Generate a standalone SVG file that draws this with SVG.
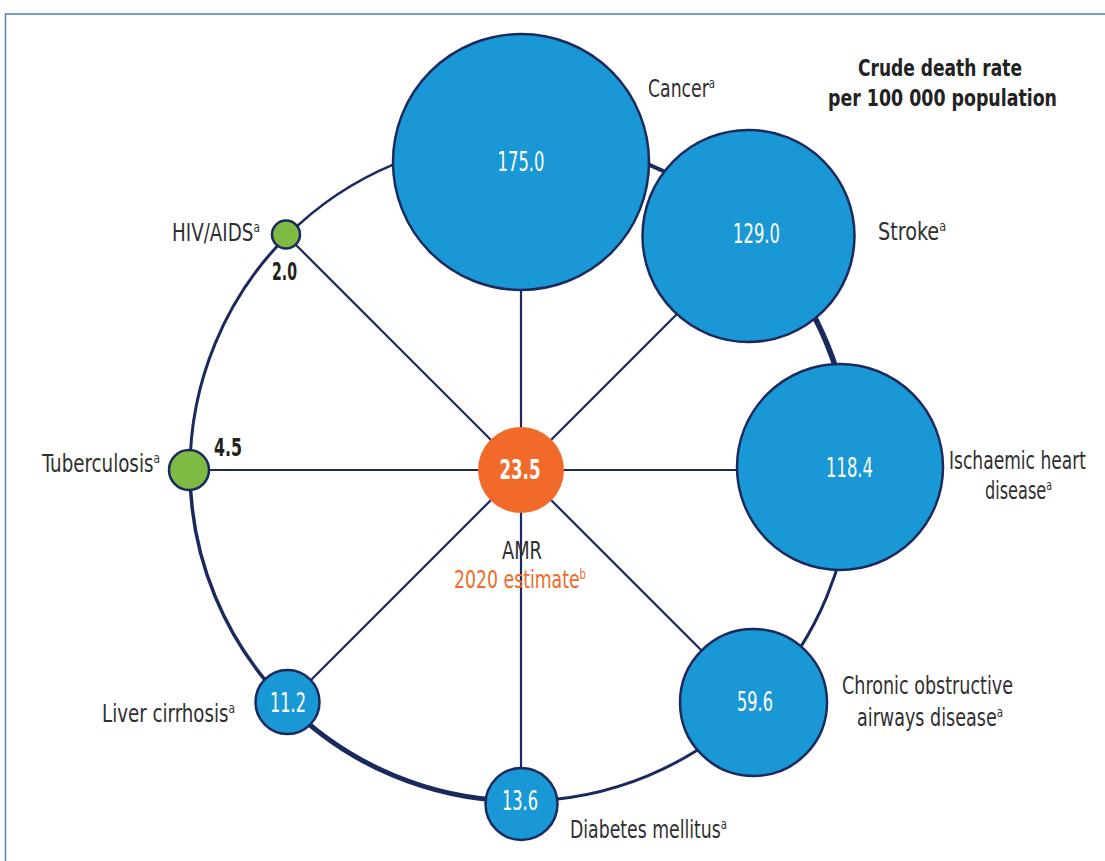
<svg xmlns="http://www.w3.org/2000/svg" width="1105" height="861" viewBox="0 0 1105 861">
  <style>
    text { font-family: "Liberation Sans Narrow", "DejaVu Sans Condensed", "Roboto Condensed", Roboto, sans-serif; }
    .lbl { font-size: 24px; fill: #2f2f2f; }
    .val { font-size: 26px; fill: #ffffff; text-anchor: middle; }
    .num { font-size: 24px; font-weight: bold; fill: #222222; }
    .ttl { font-size: 23px; font-weight: bold; fill: #222222; text-anchor: middle; }
    .sup { font-size: 14px; }
    .blue { fill: #1a98d6; stroke: #1b2a5e; stroke-width: 2.5; }
    .green { fill: #7dbb42; stroke: #1b2a5e; stroke-width: 2.5; }
    .ring { fill: none; stroke: #1b2a5e; }
    .spoke { stroke: #1b2a5e; stroke-width: 2.2; }
  </style>

  <!-- panel frame -->
  <rect x="5.5" y="14" width="1200" height="1000" fill="none" stroke="#4f7fb5" stroke-width="1.5"/>

  <!-- legend title -->
  <g id="title">
    <text class="ttl" x="940" y="76" textLength="164" lengthAdjust="spacingAndGlyphs">Crude death rate</text>
    <text class="ttl" x="942.5" y="106" textLength="229" lengthAdjust="spacingAndGlyphs">per 100 000 population</text>
  </g>

  <!-- ring segments and spokes -->
  <g id="connectors">
    <path class="ring" stroke-width="3" d="M852 470 A331 331 0 0 1 755.05 704.05"/>
    <path class="ring" stroke-width="3" d="M755.05 704.05 A331 331 0 0 1 521 801"/>
    <path class="ring" stroke-width="5" d="M521 801 A331 331 0 0 1 286.95 704.05"/>
    <path class="ring" stroke-width="3.5" d="M286.95 704.05 A331 331 0 0 1 190 470"/>
    <path class="ring" stroke-width="3" d="M190 470 A331 331 0 0 1 286.95 235.95"/>
    <path class="ring" stroke-width="2.5" d="M286.95 235.95 A331 331 0 0 1 521 139"/>
    <path class="ring" stroke-width="4" d="M521 139 A331 331 0 0 1 755.05 235.95"/>
    <path class="ring" stroke-width="5.5" d="M755.05 235.95 A331 331 0 0 1 852 470"/>

    <line class="spoke" x1="521" y1="470" x2="840" y2="470"/>
    <line class="spoke" x1="521" y1="470" x2="753.5" y2="702.5"/>
    <line class="spoke" x1="521" y1="470" x2="521" y2="804"/>
    <line class="spoke" x1="521" y1="470" x2="287.5" y2="703.5"/>
    <line class="spoke" x1="521" y1="470" x2="189" y2="470"/>
    <line class="spoke" x1="521" y1="470" x2="286" y2="235"/>
    <line class="spoke" x1="521" y1="470" x2="521" y2="162"/>
    <line class="spoke" x1="521" y1="470" x2="749" y2="242"/>
  </g>

  <g id="cancer">
    <circle class="blue" cx="521" cy="162" r="128"/>
    <text class="val" x="521" y="171" textLength="47" lengthAdjust="spacingAndGlyphs">175.0</text>
    <text class="lbl" x="648" y="97" textLength="67" lengthAdjust="spacingAndGlyphs">Cancer<tspan class="sup" dy="-9">a</tspan></text>
  </g>

  <g id="stroke">
    <circle class="blue" cx="748.5" cy="236" r="106"/>
    <text class="val" x="756.5" y="243" textLength="47" lengthAdjust="spacingAndGlyphs">129.0</text>
    <text class="lbl" x="878" y="240" textLength="68" lengthAdjust="spacingAndGlyphs">Stroke<tspan class="sup" dy="-9">a</tspan></text>
  </g>

  <g id="ischaemic-heart-disease">
    <circle class="blue" cx="840" cy="467" r="103"/>
    <text class="val" x="849.5" y="477" textLength="47" lengthAdjust="spacingAndGlyphs">118.4</text>
    <text class="lbl" x="949" y="469" textLength="137" lengthAdjust="spacingAndGlyphs">Ischaemic heart</text>
    <text class="lbl" x="985" y="499" textLength="67" lengthAdjust="spacingAndGlyphs">disease<tspan class="sup" dy="-9">a</tspan></text>
  </g>

  <g id="copd">
    <circle class="blue" cx="753.5" cy="702.5" r="73.5"/>
    <text class="val" x="755" y="711" textLength="36" lengthAdjust="spacingAndGlyphs">59.6</text>
    <text class="lbl" x="842" y="694" textLength="171" lengthAdjust="spacingAndGlyphs">Chronic obstructive</text>
    <text class="lbl" x="857" y="726" textLength="146" lengthAdjust="spacingAndGlyphs">airways disease<tspan class="sup" dy="-9">a</tspan></text>
  </g>

  <g id="diabetes">
    <circle class="blue" cx="521.5" cy="804" r="36"/>
    <text class="val" x="520" y="810" textLength="36" lengthAdjust="spacingAndGlyphs">13.6</text>
    <text class="lbl" x="570" y="838" textLength="157" lengthAdjust="spacingAndGlyphs">Diabetes mellitus<tspan class="sup" dy="-9">a</tspan></text>
  </g>

  <g id="liver-cirrhosis">
    <circle class="blue" cx="287.5" cy="702" r="32"/>
    <text class="val" x="288" y="712" textLength="36" lengthAdjust="spacingAndGlyphs">11.2</text>
    <text class="lbl" x="102" y="722" textLength="133" lengthAdjust="spacingAndGlyphs">Liver cirrhosis<tspan class="sup" dy="-9">a</tspan></text>
  </g>

  <g id="tuberculosis">
    <circle class="green" cx="189" cy="470" r="20"/>
    <text class="num" x="214" y="456" textLength="28" lengthAdjust="spacingAndGlyphs">4.5</text>
    <text class="lbl" x="42" y="472" textLength="118" lengthAdjust="spacingAndGlyphs">Tuberculosis<tspan class="sup" dy="-9">a</tspan></text>
  </g>

  <g id="hiv-aids">
    <circle class="green" cx="286" cy="234.5" r="14"/>
    <text class="num" x="272" y="280" textLength="25" lengthAdjust="spacingAndGlyphs">2.0</text>
    <text class="lbl" x="172" y="241" textLength="88" lengthAdjust="spacingAndGlyphs">HIV/AIDS<tspan class="sup" dy="-9">a</tspan></text>
  </g>

  <g id="amr">
    <circle cx="521" cy="470" r="43" fill="#f26a2a"/>
    <text class="val" x="520" y="479" font-weight="bold" textLength="41" lengthAdjust="spacingAndGlyphs">23.5</text>
    <text class="lbl" x="522" y="559" text-anchor="middle" textLength="40" lengthAdjust="spacingAndGlyphs">AMR</text>
    <text class="lbl" x="454" y="588" textLength="132" lengthAdjust="spacingAndGlyphs" style="fill:#f26a2a">2020 estimate<tspan class="sup" dy="-9">b</tspan></text>
  </g>
</svg>
